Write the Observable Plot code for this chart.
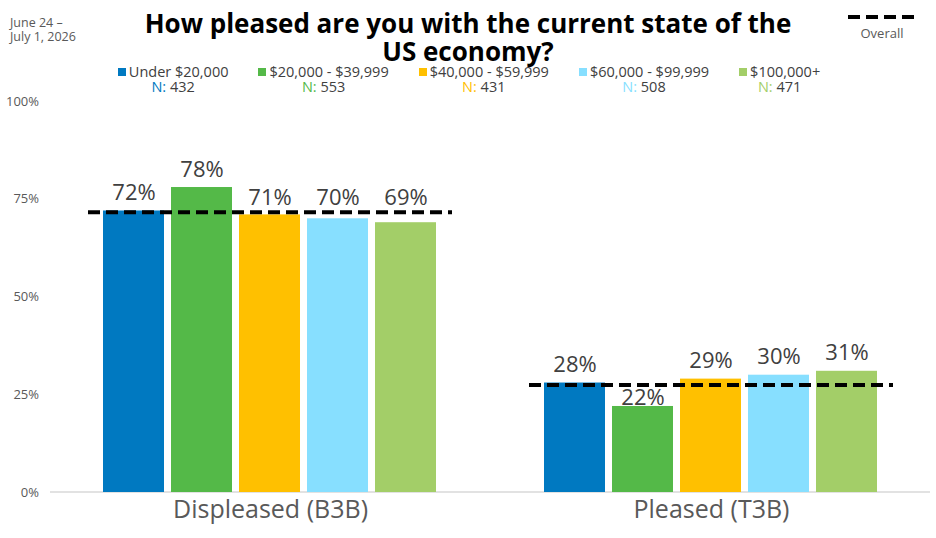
<!DOCTYPE html>
<html>
<head>
<meta charset="utf-8">
<script src="https://cdn.jsdelivr.net/npm/d3@7"></script>
<script src="https://cdn.jsdelivr.net/npm/@observablehq/plot@0.6"></script>
<style>
  html, body { margin: 0; padding: 0; background: #fff; }
  body { width: 936px; height: 538px; overflow: hidden; font-family: "Open Sans", sans-serif; }
  #header { position: relative; height: 90px; }
  #date { position: absolute; left: 10px; top: 16px; font-size: 12.5px; line-height: 14px; color: #595959; }
  #title { position: absolute; left: 0; right: 0; top: 9px; text-align: center; font-weight: 700; font-size: 26px; line-height: 28px; color: #000; white-space: nowrap; }
  #overall { position: absolute; left: 846px; top: 14px; width: 72px; text-align: center; font-size: 13px; line-height: 16px; color: #595959; }
  #legend { position: absolute; left: 0; right: 0; top: 65px; display: flex; justify-content: center; gap: 30px; padding-left: 2px; }
  .item { display: flex; flex-direction: column; align-items: center; font-size: 14.5px; line-height: 14.5px; color: #404040; }
  .item .top { display: flex; align-items: center; white-space: nowrap; }
  .item .sw { width: 8px; height: 8px; margin-right: 3px; display: inline-block; }
</style>
</head>
<body>
<div id="header">
  <div id="date">June 24 –<br>July 1, 2026</div>
  <div id="title">How pleased are you with the current state of the<br>US economy?</div>
  <div id="overall">
    <svg width="72" height="6" style="display:block"><line x1="2" x2="70" y1="3" y2="3" stroke="#000" stroke-width="4" stroke-dasharray="12,6"></line></svg>
    <div style="margin-top:5px">Overall</div>
  </div>
  <div id="legend"></div>
</div>
<div id="chart"></div>
<script>
const groups = ["Displeased (B3B)", "Pleased (T3B)"];
const series = ["Under $20,000", "$20,000 - $39,999", "$40,000 - $59,999", "$60,000 - $99,999", "$100,000+"];
const sampleN = [432, 553, 431, 508, 471];
const colors = ["#0079C1", "#54B948", "#FFC000", "#87DFFF", "#A3CE68"];
const displeased = [72, 78, 71, 70, 69];
const pleased = [28, 22, 29, 30, 31];
const overall = [71.7, 27.5];
const yTicks = [0, 25, 50, 75, 100];

// legend
const legend = document.getElementById("legend");
series.forEach((s, i) => {
  const it = document.createElement("div");
  it.className = "item";
  it.innerHTML = `<div class="top"><span class="sw" style="background:${colors[i]}"></span>${s}</div>` +
    `<div><span style="color:${colors[i]}">N:</span> ${sampleN[i]}</div>`;
  legend.appendChild(it);
});

const values = [displeased, pleased];
const data = groups.flatMap((g, gi) => series.map((s, si) => ({
  group: g, series: s, value: values[gi][si], overall: overall[gi]
})));
const overallData = groups.map((g, i) => ({group: g, value: overall[i]}));

// label placement: above bar, or nudged around the overall line when they would collide
const above = data.filter(d => d.value >= d.overall);
const nearBelow = data.filter(d => d.value < d.overall && d.overall - d.value < 4);
const farBelow = data.filter(d => d.value < d.overall && d.overall - d.value >= 4);

const font = "'Open Sans', sans-serif";
const lbl = {fx: "group", x: "series", text: d => d.value + "%", fontSize: 22, fill: "#404040"};
const chart = Plot.plot({
  width: 936,
  height: 448,
  marginTop: 11,
  marginBottom: 46,
  marginLeft: 50,
  marginRight: 6,
  style: {fontFamily: font, background: "#fff", overflow: "visible"},
  fx: {domain: groups, paddingInner: 0.175, paddingOuter: 0.085, label: null},
  x: {domain: series, paddingInner: 0.1, paddingOuter: 0.19, axis: null},
  y: {domain: [0, 100], axis: null},
  color: {domain: series, range: colors},
  marks: [
    Plot.barY(data, {fx: "group", x: "series", y: "value", fill: "series"}),
    Plot.text(above, {...lbl, y: "value", dy: -11, lineAnchor: "bottom"}),
    Plot.text(nearBelow, {...lbl, y: "overall", dy: -7, lineAnchor: "bottom"}),
    Plot.text(farBelow, {...lbl, y: "overall", dy: 4, lineAnchor: "top"}),
    Plot.ruleY(overallData, {fx: "group", y: "value", stroke: "#000", strokeWidth: 4, strokeDasharray: "12,6"}),
    Plot.axisY({ticks: yTicks, tickFormat: d => d + "%", tickSize: 0, tickPadding: 3, dx: -46.5, fontSize: 13, fill: "#595959", label: null}),
    Plot.axisFx({anchor: "bottom", tickSize: 0, tickPadding: 8, fontSize: 25, fill: "#595959", label: null})
  ]
});

// continuous baseline across the whole frame, positioned with the chart's own y scale
const y0 = chart.scale("y").apply(0);
d3.select(chart).insert("line", ":first-child")
  .attr("x1", 50).attr("x2", 936 - 6)
  .attr("y1", y0).attr("y2", y0)
  .attr("stroke", "#d9d9d9").attr("stroke-width", 1.5);

document.getElementById("chart").appendChild(chart);
</script>
</body>
</html>
